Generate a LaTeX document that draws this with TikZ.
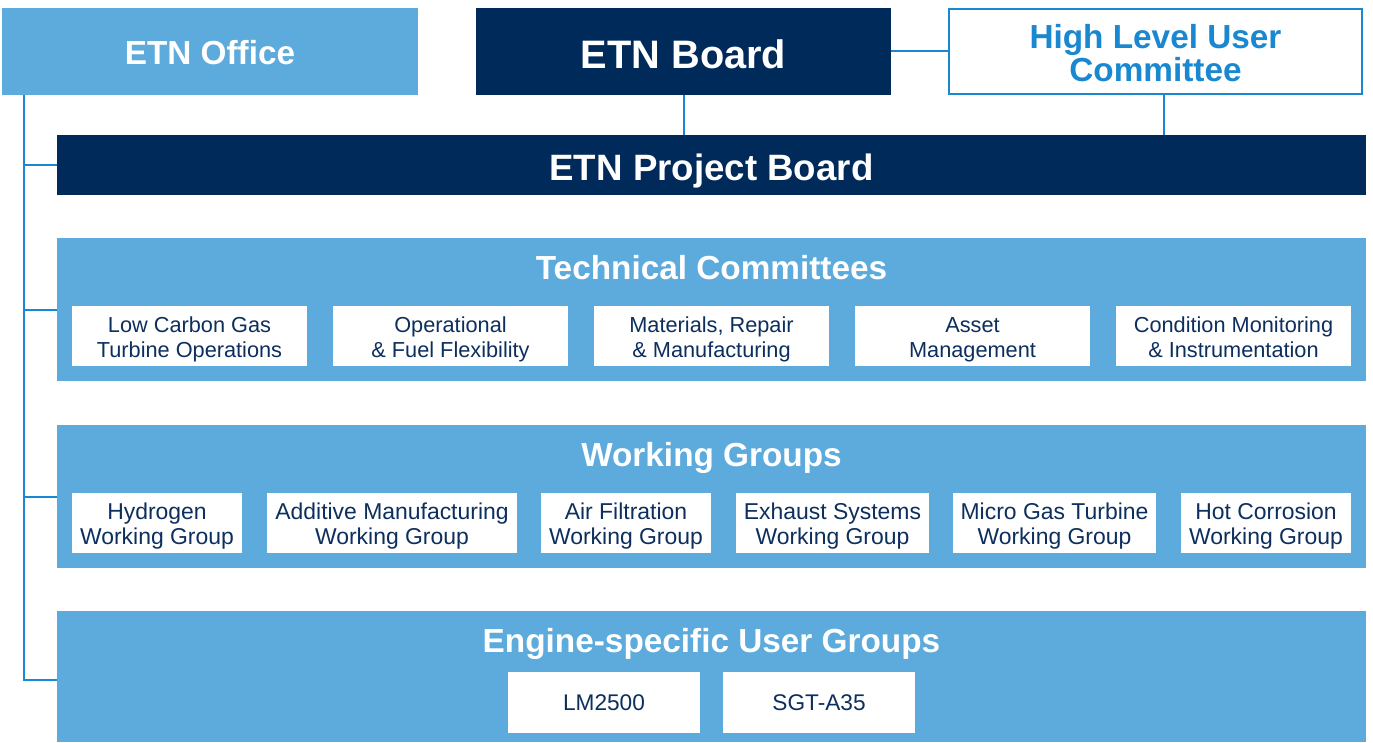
\documentclass[tikz,border=0pt]{standalone}
\usepackage{fontspec}
\setmainfont{Liberation Sans}
\usetikzlibrary{calc}
\definecolor{lightblue}{HTML}{5DAADD}
\definecolor{navy}{HTML}{002A5A}
\definecolor{linkblue}{HTML}{1A88D0}
\definecolor{textnavy}{HTML}{0D2F5E}
\begin{document}
\begin{tikzpicture}[x=0.75pt,y=-0.75pt,
  every node/.style={inner sep=0pt,outer sep=0pt},
  officebox/.style={fill=lightblue,text=white,text height=20.1pt,text depth=0pt,
    font=\bfseries\fontsize{25}{28}\selectfont},
  boardbox/.style={fill=navy,text=white,text depth=0pt,
    font=\bfseries\fontsize{27.5}{30}\selectfont},
  userbox/.style={fill=white,draw=linkblue,line width=1.5pt,text=linkblue,align=center,
    text height=45.6pt,text depth=0pt,
    font=\bfseries\fontsize{25}{24.75}\selectfont},
  groupbox/.style={fill=lightblue,minimum width=1309*0.75pt},
  grouptitle/.style={text=white,text height=17.9pt,text depth=0pt,
    font=\bfseries\fontsize{25}{28}\selectfont},
  itembox/.style={fill=white,text=textnavy,align=center,minimum height=60*0.75pt,
    font=\fontsize{16.3}{18.75}\selectfont},
  twoline/.style={itembox,text height=32.7pt,text depth=0pt},
  wgline/.style={itembox,text height=31.8pt,text depth=0pt,
    font=\fontsize{17.2}{18.75}\selectfont},
  engine/.style={itembox,minimum width=192*0.75pt,minimum height=61*0.75pt,
    font=\fontsize{17}{20}\selectfont},
  link/.style={draw=linkblue,line width=1.5pt}]
\useasboundingbox (0,0) rectangle (1373,742);

% top row
\node[officebox,minimum width=416*0.75pt,minimum height=87*0.75pt] (office) at (210,51.5) {ETN Office};
\node[boardbox,text height=25.1pt,minimum width=415*0.75pt,minimum height=87*0.75pt,
  font=\bfseries\fontsize{29.8}{32}\selectfont] (board) at (683.5,51.5) {ETN Board};
\node[userbox,minimum width=413*0.75pt,minimum height=85*0.75pt] (hluc) at (1155.5,51.5) {High Level User\\Committee};

% project board
\node[boardbox,text height=22.7pt,minimum width=1309*0.75pt,minimum height=60*0.75pt] (pb) at (711.5,165) {ETN Project Board};

% group panels
\node[groupbox,minimum height=143*0.75pt] (tc) at (711.5,309.5) {};
\node[groupbox,minimum height=143*0.75pt] (wg) at (711.5,496.5) {};
\node[groupbox,minimum height=131*0.75pt] (eug) at (711.5,676.5) {};
\node[grouptitle] (tct) at (711.5,268) {Technical Committees};
\node[grouptitle] (wgt) at (711.5,455) {Working Groups};
\node[grouptitle] (eugt) at (711.5,641) {Engine-specific User Groups};

% technical committees
\node[twoline,minimum width=235*0.75pt] (tc1) at (189.5,336) {Low Carbon Gas\\Turbine Operations};
\node[twoline,minimum width=235*0.75pt] (tc2) at (450.5,336) {Operational\\\& Fuel Flexibility};
\node[twoline,minimum width=235*0.75pt] (tc3) at (711.5,336) {Materials, Repair\\\& Manufacturing};
\node[twoline,minimum width=235*0.75pt] (tc4) at (972.5,336) {Asset\\Management};
\node[twoline,minimum width=235*0.75pt] (tc5) at (1233.5,336) {Condition Monitoring\\\& Instrumentation};

% working groups
\node[wgline,minimum width=170*0.75pt] (wg1) at (157,523) {Hydrogen\\Working Group};
\node[wgline,minimum width=250*0.75pt] (wg2) at (392,523) {Additive Manufacturing\\Working Group};
\node[wgline,minimum width=170*0.75pt] (wg3) at (626,523) {Air Filtration\\Working Group};
\node[wgline,minimum width=193*0.75pt] (wg4) at (832.5,523) {Exhaust Systems\\Working Group};
\node[wgline,minimum width=203*0.75pt] (wg5) at (1054.5,523) {Micro Gas Turbine\\Working Group};
\node[wgline,minimum width=170*0.75pt] (wg6) at (1266,523) {Hot Corrosion\\Working Group};

% engine-specific user groups
\node[engine] (ug1) at (604,702.5) {LM2500};
\node[engine] (ug2) at (819,702.5) {SGT-A35};

% connectors
\coordinate (spine) at (24,95);
\draw[link] (board.east) -- (hluc.west);
\draw[link] (board.south) -- (board.south |- pb.north);
\coordinate (hlucfoot) at ($(hluc.south)+(8.5,0)$);
\draw[link] (hlucfoot) -- (hlucfoot |- pb.north);
\draw[link] (spine) |- (pb.west);
\draw[link] (spine) |- (tc.west);
\draw[link] (spine) |- (wg.west);
\draw[link] (spine) |- ($(eug.west)+(0,3.5)$);
\end{tikzpicture}
\end{document}
